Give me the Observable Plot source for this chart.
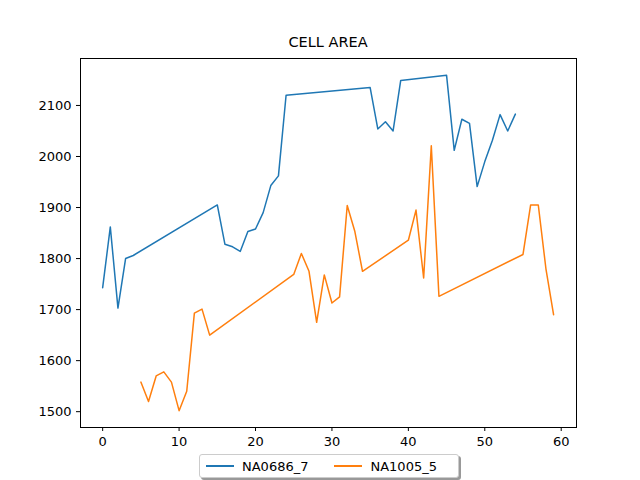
<!DOCTYPE html>
<html><head>
<script src="https://cdn.jsdelivr.net/npm/d3@7"></script>
<script src="https://cdn.jsdelivr.net/npm/@observablehq/plot@0.6"></script>
<style>
body{margin:0;font-family:"DejaVu Sans",sans-serif;background:#fff}
#wrap{position:relative;width:640px;height:480px}
#title{position:absolute;top:34px;left:80px;width:496px;text-align:center;font-size:14.5px}
#legend{position:absolute;top:454px;left:199px;width:258px;height:22px;border:1px solid #ccc;border-radius:3px;box-shadow:2px 2px 0 #999;background:#fff;font-size:13px;display:flex;align-items:center}
.item{display:flex;align-items:center;margin-left:6px;margin-right:20px}
.sw{width:28px;height:2px;margin-right:8px}
</style>
</head><body>
<div id="wrap"><div id="title">CELL AREA</div><div id="chart"></div>
<div id="legend"><div class="item"><div class="sw" style="background:#1f77b4"></div>NA0686_7</div><div class="item"><div class="sw" style="background:#ff7f0e"></div>NA1005_5</div></div>
</div>
<script>
const xA = [0,1,2,3,4,15,16,17,18,19,20,21,22,23,24,35,36,37,38,39,45,46,47,48,49,50,51,52,53,54];
const yA = [1743,1862,1703,1800,1806,1905,1828,1823,1814,1853,1858,1890,1943,1962,2120,2135,2054,2068,2050,2149,2159,2012,2073,2065,1941,1990,2032,2082,2050,2083];
const xB = [5,6,7,8,9,10,11,12,13,14,25,26,27,28,29,30,31,32,33,34,40,41,42,43,44,55,56,57,58,59];
const yB = [1558,1520,1570,1578,1558,1502,1540,1693,1701,1650,1769,1810,1775,1675,1768,1713,1725,1904,1853,1775,1836,1895,1762,2021,1726,1808,1905,1905,1780,1690];
const series = ["NA0686_7","NA1005_5"];
const data = [
  ...xA.map((x,i)=>({x,y:yA[i],s:series[0]})),
  ...xB.map((x,i)=>({x,y:yB[i],s:series[1]}))
];
const chart = Plot.plot({
  width:640, height:480,
  marginLeft:80, marginRight:64, marginTop:58, marginBottom:53,
  style:{fontFamily:"DejaVu Sans",fontSize:"13px",color:"#000"},
  x:{domain:[-2.9,62],ticks:[0,10,20,30,40,50,60],tickFormat:"d",label:null,tickSize:4},
  y:{domain:[1469,2192],ticks:[1500,1600,1700,1800,1900,2000,2100],tickFormat:"d",label:null,tickSize:4},
  color:{domain:series,range:["#1f77b4","#ff7f0e"]},
  marks:[
    Plot.frame({stroke:"#000"}),
    Plot.line(data,{x:"x",y:"y",z:"s",stroke:"s",strokeWidth:1.5})
  ]
});
d3.select('#chart').append(()=>chart);
</script>
</body></html>
